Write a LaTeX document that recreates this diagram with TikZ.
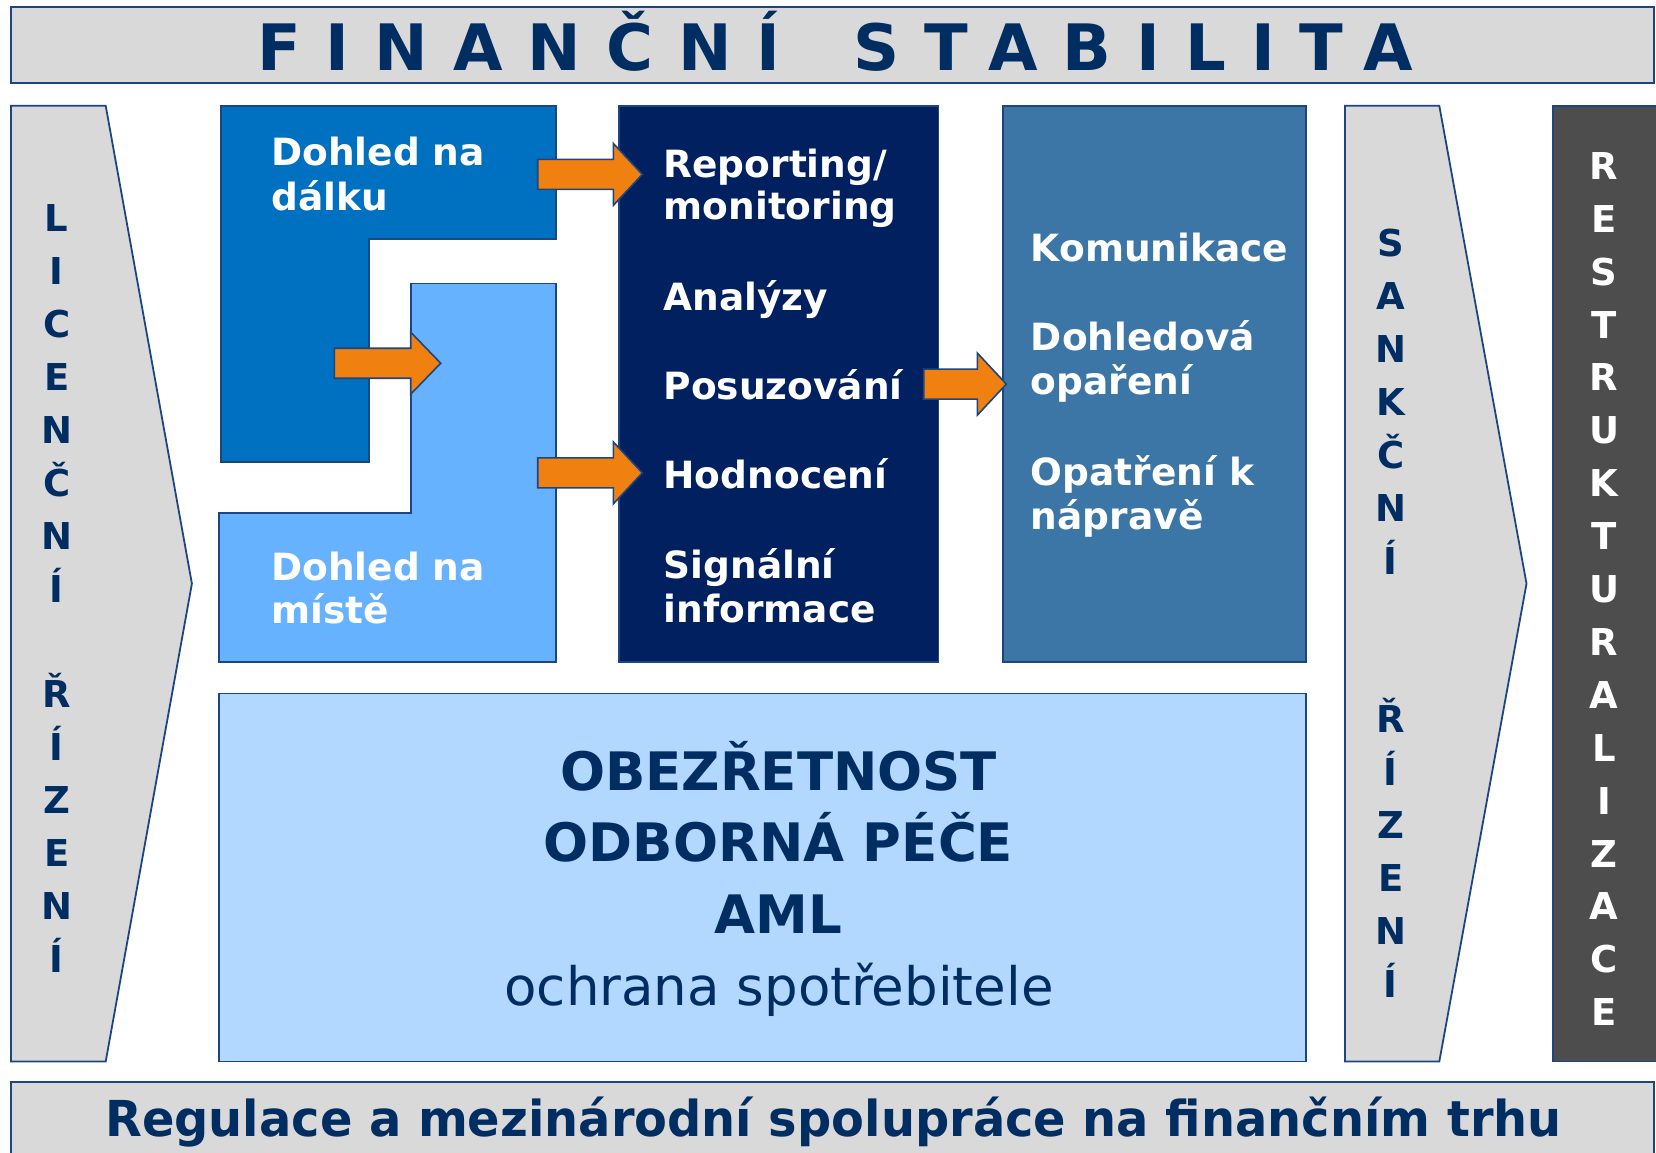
\documentclass[tikz,border=0pt]{standalone}
\usepackage{fontspec}
\setmainfont{DejaVu Sans}
\newfontfamily\titlefont[LetterSpace=39]{DejaVu Sans}
\newfontfamily\condfont[FakeStretch=0.967]{DejaVu Sans}
\definecolor{greyfill}{HTML}{D9D9D9}
\definecolor{navytxt}{HTML}{002D62}
\definecolor{bordc}{HTML}{1C4682}
\definecolor{dalkuc}{HTML}{0070C0}
\definecolor{mistec}{HTML}{66B2FF}
\definecolor{navybox}{HTML}{002060}
\definecolor{steel}{HTML}{3B76A6}
\definecolor{lightbox}{HTML}{B3D8FF}
\definecolor{darkgrey}{HTML}{4D4D4D}
\definecolor{orng}{HTML}{F0800F}
\newcommand{\blockarrow}[4]{%
  \draw[barrow] (#1,#4-15) -- (#2,#4-15) -- (#2,#4-31) -- (#3,#4) -- (#2,#4+31) -- (#2,#4+15) -- (#1,#4+15) -- cycle;}
\begin{document}
\begin{tikzpicture}[x=1pt,y=-1pt,
  frame/.style={draw=bordc, line width=1.8pt, line join=miter},
  txt/.style={inner sep=0pt, anchor=base west, text=white, font=\bfseries\fontsize{37.5}{40}\selectfont},
  vlet/.style={inner sep=0pt, anchor=base, font=\bfseries\fontsize{37}{40}\selectfont},
  bigtxt/.style={inner sep=0pt, anchor=base, text=navytxt, font=\bfseries\fontsize{53}{56}\selectfont},
  barrow/.style={fill=orng, draw=bordc, line width=1.6pt, line join=miter}]
\path[use as bounding box] (0,0) rectangle (1656,1152);
\clip (0,0) rectangle (1656,1152);
\fill[white] (0,0) rectangle (1656,1152);

% title
\draw[frame, fill=greyfill] (10.6,6.7) rectangle (1654,83.3);
\node[inner sep=0pt, anchor=base west, text=navytxt, font=\titlefont\bfseries\fontsize{64}{68}\selectfont] (title) at (257,70.7) {FINANČNÍ\hspace{26pt} STABILITA};

% bottom bar
\draw[frame, fill=greyfill] (10.6,1081.6) rectangle (1654,1165);
\node[inner sep=0pt, anchor=base, text=navytxt, font=\condfont\bfseries\fontsize{49.5}{52}\selectfont] (regul) at (833.5,1136) {Regulace a mezinárodní spolupráce na finančním trhu};

% left chevron
\draw[frame, fill=greyfill] (11,105.8) -- (105.7,105.8) -- (191.9,583.6) -- (105.7,1061.5) -- (11,1061.5) -- cycle;
\foreach \c [count=\i from 0] in {L,I,C,E,N,Č,N,Í}
  \node[vlet, text=navytxt] (lic\i) at (56.7,231.7+\i*52.9) {\c};
\foreach \c [count=\i from 0] in {Ř,Í,Z,E,N,Í}
  \node[vlet, text=navytxt] (licr\i) at (56.7,707.8+\i*52.9) {\c};

% right chevron
\draw[frame, fill=greyfill] (1345,105.8) -- (1439.3,105.8) -- (1526.5,583.6) -- (1439.3,1061.5) -- (1345,1061.5) -- cycle;
\foreach \c [count=\i from 0] in {S,A,N,K,Č,N,Í}
  \node[vlet, text=navytxt] (san\i) at (1390.7,256.7+\i*52.9) {\c};
\foreach \c [count=\i from 0] in {Ř,Í,Z,E,N,Í}
  \node[vlet, text=navytxt] (sanr\i) at (1390.7,732.9+\i*52.9) {\c};

% restrukturalizace
\draw[frame, fill=darkgrey] (1553.3,105.8) rectangle (1662,1061.5);
\foreach \c [count=\i from 0] in {R,E,S,T,R,U,K,T,U,R,A,L,I,Z,A,C,E}
  \node[vlet, text=white] (res\i) at (1604,179.3+\i*52.9) {\c};

% Dohled boxes
\draw[frame, fill=dalkuc] (221,105.8) -- (556,105.8) -- (556,238.7) -- (369.3,238.7) -- (369.3,461.8) -- (221,461.8) -- cycle;
\draw[frame, fill=mistec] (410.7,283.5) -- (556,283.5) -- (556,661.6) -- (219,661.6) -- (219,512.9) -- (410.7,512.9) -- cycle;
\node[txt] (d1) at (271,165.8) {Dohled na};
\node[txt] (d2) at (271,210.2) {dálku};
\node[txt] (m1) at (271,580) {Dohled na};
\node[txt] (m2) at (271,623.9) {místě};

% navy box
\draw[frame, fill=navybox] (619.3,105.8) rectangle (938.4,661.6);
\node[txt] (n1) at (663.4,177) {Reporting/};
\node[txt] (n2) at (663.4,219.5) {monitoring};
\node[txt] (n3) at (663.4,310) {Analýzy};
\node[txt] (n4) at (663.4,399) {Posuzování};
\node[txt] (n5) at (663.4,488.8) {Hodnocení};
\node[txt] (n6) at (663.4,578) {Signální};
\node[txt] (n7) at (663.4,622.7) {informace};

% steel box
\draw[frame, fill=steel] (1003.1,105.8) rectangle (1306,661.6);
\node[txt] (s1) at (1030.7,261) {Komunikace};
\node[txt] (s2) at (1030.7,350) {Dohledová};
\node[txt] (s3) at (1030.7,394) {opaření};
\node[txt] (s4) at (1030.7,485) {Opatření k};
\node[txt] (s5) at (1030.7,529.5) {nápravě};

% big box
\draw[frame, fill=lightbox] (219,693.5) rectangle (1306,1061.5);
\node[bigtxt] (b1) at (778.5,790) {OBEZŘETNOST};
\node[bigtxt] (b2) at (778.5,861.7) {ODBORNÁ PÉČE};
\node[bigtxt] (b3) at (778.5,933.3) {AML};
\node[bigtxt, font=\fontsize{53}{56}\selectfont] (b4) at (779,1005) {ochrana spotřebitele};

% block arrows
\blockarrow{537.7}{613.3}{642.3}{174.4}
\blockarrow{334.3}{410.7}{440.7}{363.2}
\blockarrow{537.7}{613.3}{642.3}{472.9}
\blockarrow{923.7}{977.4}{1006.3}{384.1}
\end{tikzpicture}
\end{document}
